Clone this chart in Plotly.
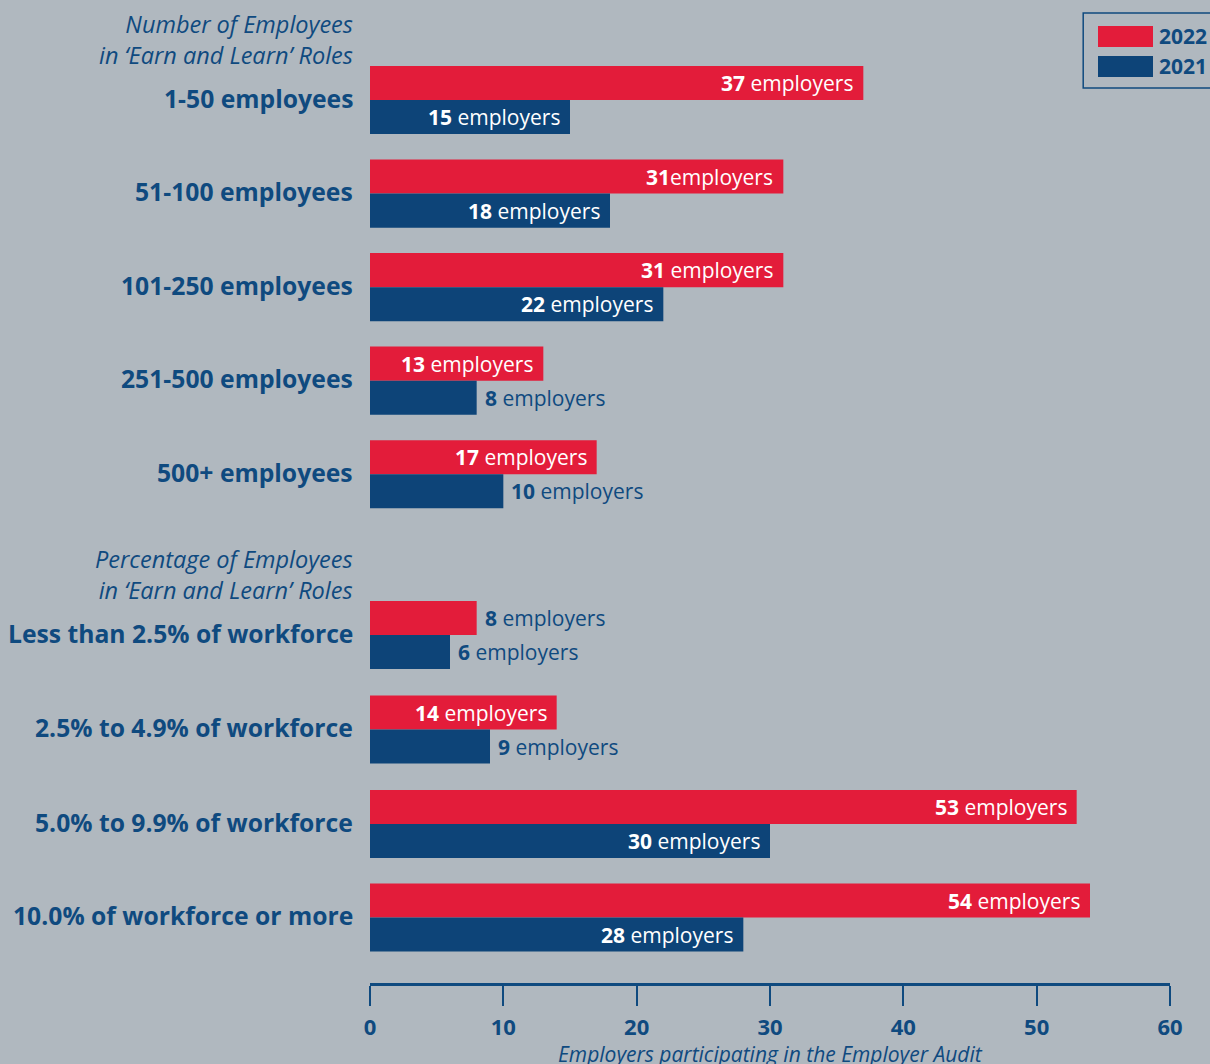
import plotly.graph_objects as go

# Employer audit: employers with 'Earn and Learn' staff, by size band and by share of workforce
categories = [
    "1-50 employees",
    "51-100 employees",
    "101-250 employees",
    "251-500 employees",
    "500+ employees",
    "Less than 2.5% of workforce",
    "2.5% to 4.9% of workforce",
    "5.0% to 9.9% of workforce",
    "10.0% of workforce or more",
]
employers_2022 = [37, 31, 31, 13, 17, 8, 14, 53, 54]
employers_2021 = [15, 18, 22, 8, 10, 6, 9, 30, 28]
# spacing between the number and the word in each 2022 label, as printed
label_gap_2022 = [" ", "", " ", " ", " ", " ", " ", " ", " "]
label_gap_2021 = [" "] * 9
section_titles = [
    "Number of Employees<br>in \u2018Earn and Learn\u2019 Roles",
    "Percentage of Employees<br>in \u2018Earn and Learn\u2019 Roles",
]
x_ticks = [0, 10, 20, 30, 40, 50, 60]
axis_title = "Employers participating in the Employer Audit"

# row layout (in row units); the two sections are separated by a wider gap
row_pos = [0, 1, 2, 3, 4, 5.72, 6.73, 7.74, 8.74]
section_title_pos = [-0.65, 5.07]
BAR_H = 0.364

RED = "#e31c3a"
BLUE = "#0d4478"
TEXT_BLUE = "#0f4a7f"
BG = "#b0b8bf"
FONT = "Open Sans"

fig = go.Figure()
fig.add_trace(go.Bar(
    name="2022", orientation="h", y=row_pos, x=employers_2022,
    width=BAR_H, offset=-BAR_H, marker=dict(color=RED, line=dict(width=0)),
    hoverinfo="x", showlegend=False,
))
fig.add_trace(go.Bar(
    name="2021", orientation="h", y=row_pos, x=employers_2021,
    width=BAR_H, offset=0, marker=dict(color=BLUE, line=dict(width=0)),
    hoverinfo="x", showlegend=False,
))

annotations = []

# value labels: white inside long bars, blue just past short ones
def add_value_labels(values, gaps, y_shift_units):
    for v, g, yp in zip(values, gaps, row_pos):
        text = f"<b>{v}</b>{g}employers"
        inside = v >= 12
        annotations.append(dict(
            x=v, y=yp + y_shift_units, xref="x", yref="y",
            text=text, showarrow=False,
            xanchor="right" if inside else "left",
            xshift=-8 if inside else 6,
            yanchor="middle",
            font=dict(family=FONT, size=21, color="white" if inside else TEXT_BLUE),
        ))

add_value_labels(employers_2022, label_gap_2022, -BAR_H / 2)
add_value_labels(employers_2021, label_gap_2021, BAR_H / 2)

# category labels to the left of the bars
for cat, yp in zip(categories, row_pos):
    annotations.append(dict(
        x=0, y=yp, xref="paper", yref="y", text=f"<b>{cat}</b>",
        showarrow=False, xanchor="right", xshift=-15, yshift=2, yanchor="middle",
        font=dict(family=FONT, size=24.7, color=TEXT_BLUE),
    ))

# section headings
for t, yp in zip(section_titles, section_title_pos):
    annotations.append(dict(
        x=0, y=yp, xref="paper", yref="y", text=f"<i>{t}</i>",
        showarrow=False, xanchor="right", xshift=-15, yshift=0, yanchor="middle",
        align="right",
        font=dict(family=FONT, size=23.5, color=TEXT_BLUE),
    ))

# axis title under the tick labels
annotations.append(dict(
    x=0.5, y=0, xref="paper", yref="paper", text=f"<i>{axis_title}</i>",
    showarrow=False, xanchor="center", yanchor="top", yshift=-55,
    font=dict(family=FONT, size=21, color=TEXT_BLUE),
))

# legend drawn as a framed key in the top-right corner
legend_items = [("2022", RED), ("2021", BLUE)]
shapes = [dict(
    type="rect", xref="paper", yref="paper",
    x0=0.8915, x1=1.07, y0=0.9105, y1=0.9868,
    line=dict(color=TEXT_BLUE, width=1.5), fillcolor="rgba(0,0,0,0)",
)]
legend_rows = [(0.9736, 0.9522), (0.9430, 0.9217)]
for (lbl, col), (ytop, ybot) in zip(legend_items, legend_rows):
    shapes.append(dict(
        type="rect", xref="paper", yref="paper",
        x0=0.91, x1=0.97875, y0=ybot, y1=ytop,
        line=dict(width=0), fillcolor=col,
    ))
    annotations.append(dict(
        x=0.9835, y=(ytop + ybot) / 2, xref="paper", yref="paper",
        text=f"<b>{lbl}</b>", showarrow=False, xanchor="left", yanchor="middle",
        font=dict(family=FONT, size=21, color=TEXT_BLUE),
    ))

fig.update_layout(
    width=1210, height=1064,
    margin=dict(l=370, r=40, t=0, b=81),
    paper_bgcolor=BG, plot_bgcolor=BG,
    barmode="overlay",
    annotations=annotations,
    shapes=shapes,
    font=dict(family=FONT, color=TEXT_BLUE),
    xaxis=dict(
        range=[0, 60], tickvals=x_ticks, ticktext=[f"<b>{t}</b>" for t in x_ticks],
        showgrid=False, zeroline=False,
        showline=True, linecolor=TEXT_BLUE, linewidth=3,
        ticks="outside", ticklen=20, tickwidth=2, tickcolor=TEXT_BLUE,
        ticklabelstandoff=3,
        tickfont=dict(family=FONT, size=22, color=TEXT_BLUE),
        fixedrange=True,
    ),
    yaxis=dict(
        range=[9.44, -1.07], showgrid=False, zeroline=False,
        showticklabels=False, showline=False, ticks="", fixedrange=True,
    ),
)

fig.write_html("out.html")
